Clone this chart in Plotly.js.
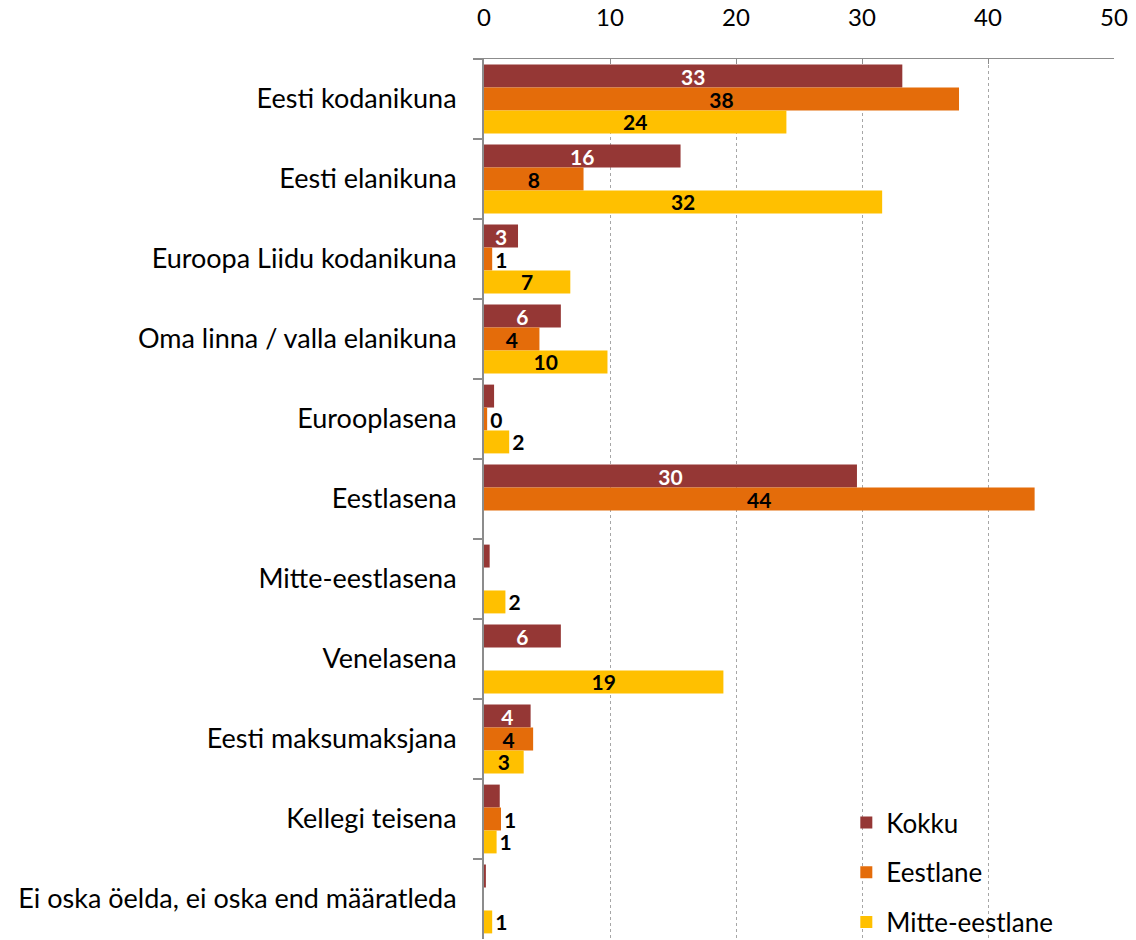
<!DOCTYPE html>
<html>
<head>
<meta charset="utf-8">
<script src="https://cdn.plot.ly/plotly-3.0.1.min.js"></script>
<style>html,body{margin:0;padding:0;background:#fff}#chart{width:1136px;height:940px}</style>
</head>
<body>
<div id="chart"></div>
<script>
const categories = [
  "Eesti kodanikuna",
  "Eesti elanikuna",
  "Euroopa Liidu kodanikuna",
  "Oma linna / valla elanikuna",
  "Eurooplasena",
  "Eestlasena",
  "Mitte-eestlasena",
  "Venelasena",
  "Eesti maksumaksjana",
  "Kellegi teisena",
  "Ei oska öelda, ei oska end määratleda"
];
const seriesNames = ["Kokku", "Eestlane", "Mitte-eestlane"];
const kokku = [33.2, 15.6, 2.7, 6.1, 0.8, 29.6, 0.45, 6.1, 3.7, 1.25, 0.15];
const eestlane = [37.7, 7.9, 0.65, 4.4, 0.25, 43.7, null, null, 3.9, 1.35, null];
const mitte = [24.0, 31.6, 6.85, 9.8, 2.0, null, 1.7, 19.0, 3.15, 1.0, 0.65];
const kokkuLabels = ["33", "16", "3", "6", "", "30", "", "6", "4", "", ""];
const eestlaneLabels = ["38", "8", "1", "4", "0", "44", "", "", "4", "1", ""];
const mitteLabels = ["24", "32", "7", "10", "2", "", "2", "19", "3", "1", "1"];
const tickVals = [0, 10, 20, 30, 40, 50];

const colors = ["#953735", "#E46C0A", "#FFC000"];
const FONT = "Lato, 'Open Sans', sans-serif";

function posFor(vals, minInside) {
  return vals.map(v => (v !== null && v >= minInside) ? "inside" : "outside");
}

const traces = [
  {name: seriesNames[0], vals: kokku, labels: kokkuLabels, color: colors[0], tcolor: "#ffffff"},
  {name: seriesNames[1], vals: eestlane, labels: eestlaneLabels, color: colors[1], tcolor: "#000000"},
  {name: seriesNames[2], vals: mitte, labels: mitteLabels, color: colors[2], tcolor: "#000000"}
].map((s, k) => ({
  type: "bar",
  orientation: "h",
  name: s.name,
  legendgroup: "g" + k,
  x: s.vals,
  y: categories,
  marker: {color: s.color},
  text: s.labels,
  textposition: posFor(s.vals, 2.5),
  textangle: 0,
  insidetextanchor: "middle",
  constraintext: "none",
  cliponaxis: false,
  textfont: {family: FONT, size: 21, color: s.tcolor, weight: "bold"},
  outsidetextfont: {family: FONT, size: 21, color: "#000000", weight: "bold"},
  insidetextfont: {family: FONT, size: 21, color: s.tcolor, weight: "bold"},
  hoverinfo: "x+y+name"
}));

const layout = {
  width: 1136,
  height: 940,
  margin: {l: 484, r: 22, t: 59, b: 1, autoexpand: false},
  paper_bgcolor: "#ffffff",
  plot_bgcolor: "#ffffff",
  font: {family: FONT, size: 26, color: "#000000"},
  barmode: "group",
  bargap: 0.14,
  bargroupgap: 0,
  showlegend: true,
  legend: {
    xref: "container", yref: "container",
    x: 0.745, y: 0.150, xanchor: "left", yanchor: "top",
    traceorder: "grouped",
    tracegroupgap: 13,
    font: {family: FONT, size: 26, color: "#000000"},
    bgcolor: "rgba(0,0,0,0)"
  },
  xaxis: {
    side: "top",
    range: [0, 50],
    tickvals: tickVals,
    ticktext: tickVals.map(String),
    showgrid: true,
    gridcolor: "#a6a6a6",
    griddash: "dot",
    gridwidth: 1,
    zeroline: false,
    showline: true,
    linecolor: "#8c8c8c",
    linewidth: 1.5,
    ticks: "inside",
    ticklen: 5,
    tickcolor: "#8c8c8c",
    ticklabelstandoff: 22,
    tickfont: {family: FONT, size: 24, color: "#000000"},
    fixedrange: true
  },
  yaxis: {
    type: "category",
    autorange: "reversed",
    showgrid: false,
    zeroline: false,
    showline: true,
    linecolor: "#8c8c8c",
    linewidth: 2,
    ticks: "outside",
    tickson: "boundaries",
    ticklen: 9,
    tickcolor: "#8c8c8c",
    tickwidth: 1.5,
    ticklabelstandoff: 20,
    tickfont: {family: FONT, size: 27, color: "#000000"},
    fixedrange: true
  }
};

Plotly.newPlot("chart", traces, layout, {displayModeBar: false, staticPlot: true});
</script>
</body>
</html>
